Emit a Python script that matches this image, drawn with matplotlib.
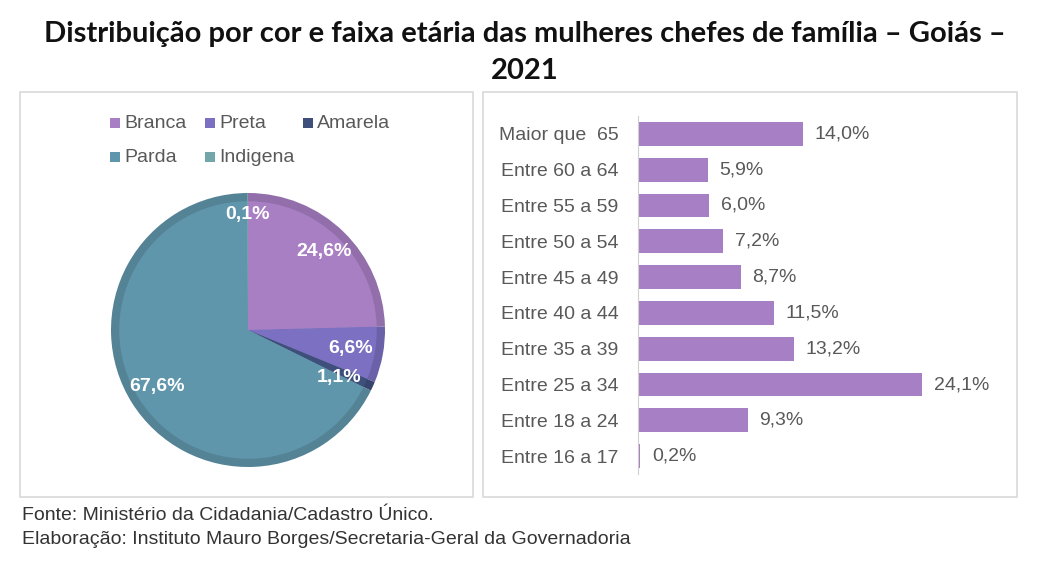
import matplotlib.pyplot as plt
import matplotlib.colors as mcolors
from matplotlib.patches import Rectangle
import numpy as np

# pie data
cores = ['Branca', 'Preta', 'Amarela', 'Parda', 'Indigena']
cor_pct = [24.6, 6.6, 1.1, 67.6, 0.1]
cor_colors = ['#a87fc3', '#7b70c2', '#3f4f7c', '#6096ab', '#72a6a8']

# bar data (top to bottom)
faixas = ['Maior que  65', 'Entre 60 a 64', 'Entre 55 a 59', 'Entre 50 a 54', 'Entre 45 a 49',
          'Entre 40 a 44', 'Entre 35 a 39', 'Entre 25 a 34', 'Entre 18 a 24', 'Entre 16 a 17']
faixa_pct = [14.0, 5.9, 6.0, 7.2, 8.7, 11.5, 13.2, 24.1, 9.3, 0.2]

W, H = 1049, 565
fig = plt.figure(figsize=(W / 100, H / 100), dpi=100)
fig.patch.set_facecolor('white')

def fx(px):
    return px / W

def fy(py):
    return 1 - py / H

# panel frames
for x0, x1 in [(20, 473), (483, 1017)]:
    fig.patches.append(Rectangle((fx(x0), fy(497)), fx(x1 - x0), (497 - 92) / H,
                                 transform=fig.transFigure, fill=False,
                                 edgecolor='#d9d9d9', linewidth=1.2))

fig.text(0.5, fy(34), 'Distribuição por cor e faixa etária das mulheres chefes de família – Goiás –',
         ha='center', va='center', fontsize=21, fontweight='bold', family='Lato', color='#111111')
fig.text(0.5, fy(71), '2021', ha='center', va='center', fontsize=21, fontweight='bold',
         family='Lato', color='#111111')

# pie
cx, cy, r = 248, 330, 137
axp = fig.add_axes([fx(cx - r), fy(cy + r), fx(2 * r), 2 * r / H])
dark = [tuple(c * 0.87 for c in mcolors.to_rgb(col)) for col in cor_colors]
axp.pie(cor_pct, colors=dark, startangle=90, counterclock=False,
        wedgeprops=dict(edgecolor='none'))
axp.pie(cor_pct, colors=cor_colors, startangle=90, counterclock=False, radius=0.94,
        wedgeprops=dict(edgecolor='none'))
axp.set_xlim(-1, 1)
axp.set_ylim(-1, 1)
axp.set_aspect('equal')

lbl_dist = [0.80, 0.76, 0.75, 0.78, 0.84]
lbl_shift = [0, 0, -3, 0, 0]
start = 90
for v, d, s in zip(cor_pct, lbl_dist, lbl_shift):
    mid = start - v * 3.6 / 2 + s
    start -= v * 3.6
    a = np.deg2rad(mid)
    axp.text(d * np.cos(a), d * np.sin(a), f'{v:.1f}%'.replace('.', ','), ha='center', va='center',
             color='white', fontsize=14, fontweight='bold', family='Liberation Sans')

# legend, drawn by hand to match the spacing of the original
leg_pos = [(110, 123), (205, 123), (303, 123), (110, 157), (205, 157)]
for name, col, (lx, ly) in zip(cores, cor_colors, leg_pos):
    fig.patches.append(Rectangle((fx(lx), fy(ly + 5)), fx(10), 10 / H, transform=fig.transFigure,
                                 facecolor=col, edgecolor='none'))
    fig.text(fx(lx + 14), fy(ly), name, ha='left', va='center', fontsize=14,
             family='Liberation Sans', color='#595959')

# bars
axb = fig.add_axes([fx(638), fy(474), fx(362), 358 / H])
y = np.arange(len(faixas))
axb.barh(y, faixa_pct, height=0.66, color='#a77fc4')
axb.set_ylim(len(faixas) - 0.5, -0.5)
axb.set_xlim(0, 362 / 11.8)
axb.set_yticks(y)
axb.set_yticklabels(faixas, fontsize=14, family='Liberation Sans', color='#595959')
axb.tick_params(axis='y', length=0, pad=14)
axb.set_xticks([])
for sp in ['top', 'right', 'bottom']:
    axb.spines[sp].set_visible(False)
axb.spines['left'].set_color('#d0d0d0')
for yi, v in zip(y, faixa_pct):
    axb.text(v + 1.0, yi, f'{v:.1f}%'.replace('.', ','), va='center', ha='left',
             fontsize=14, family='Liberation Sans', color='#595959')

fig.text(fx(22), fy(516), 'Fonte: Ministério da Cidadania/Cadastro Único.', ha='left', va='center',
         fontsize=14, family='Liberation Sans', color='#333333')
fig.text(fx(22), fy(540), 'Elaboração: Instituto Mauro Borges/Secretaria-Geral da Governadoria',
         ha='left', va='center', fontsize=14, family='Liberation Sans', color='#333333')

fig.savefig('out.png', dpi=100, facecolor='white')
